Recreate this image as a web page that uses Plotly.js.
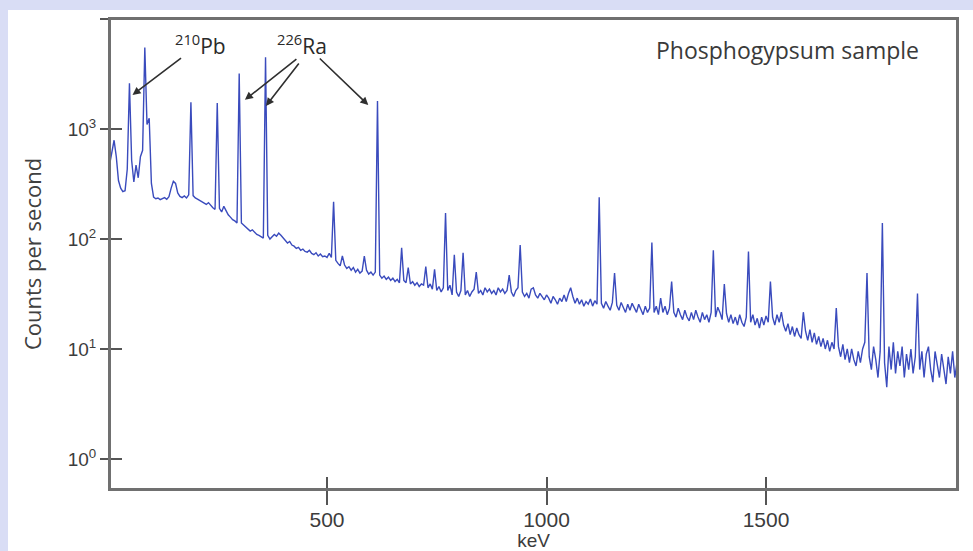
<!DOCTYPE html>
<html>
<head>
<meta charset="utf-8">
<script src="https://cdn.plot.ly/plotly-3.0.1.min.js"></script>
<style>
  html, body { margin: 0; padding: 0; background: #d9ddf5; width: 973px; height: 551px; overflow: hidden; }
  #chart { position: absolute; left: 8px; top: 10px; width: 965px; height: 541px; background: #ffffff; }
</style>
</head>
<body>
<div id="chart"></div>
<script>
// Gamma spectrum of a phosphogypsum sample: counts per second every 5 keV, starting at 5 keV
const energyStart = 5;   // keV of first channel
const energyStep = 5;    // keV per channel
const countsPerSecond = [
  // 5 - 50
  480, 640, 790, 560, 340, 290, 270, 275, 430, 2600,
  // 55 - 100
  520, 330, 470, 360, 560, 640, 5500, 1100, 1250, 320,
  // 105 - 150
  240, 232, 236, 228, 234, 238, 230, 242, 290, 335,
  // 155 - 200
  320, 262, 244, 238, 246, 236, 252, 1750, 248, 236,
  // 205 - 250
  230, 224, 218, 212, 206, 214, 200, 192, 186, 1720,
  // 255 - 300
  190, 176, 198, 182, 166, 158, 150, 146, 140, 3200,
  // 305 - 350
  140, 134, 128, 124, 118, 121, 114, 110, 108, 104,
  // 355 - 400
  102, 4500, 108, 100, 104, 110, 106, 113, 108, 102,
  // 405 - 450
  97, 92, 95, 88, 86, 82, 84, 79, 81, 77,
  // 455 - 500
  76, 79, 74, 72, 75, 70, 73, 69, 70, 68,
  // 505 - 550
  74, 68, 218, 64, 60, 57, 70, 58, 54, 56,
  // 555 - 600
  52, 55, 50, 53, 49, 51, 70, 52, 48, 50,
  // 605 - 650
  47, 50, 1800, 47, 44, 46, 43, 45, 42, 44,
  // 655 - 700
  41, 43, 40, 83, 42, 40, 55, 39, 41, 38,
  // 705 - 750
  40, 37, 39, 38, 56, 36, 39, 35, 53, 34,
  // 755 - 800
  37, 33, 36, 172, 34, 38, 31, 72, 33, 30,
  // 805 - 850
  34, 75, 31, 34, 30, 33, 35, 50, 32, 34,
  // 855 - 900
  31, 36, 33, 35, 32, 34, 31, 36, 33, 35,
  // 905 - 950
  32, 34, 47, 33, 30, 34, 36, 88, 33, 30,
  // 955 - 1000
  32, 29, 35, 36, 31, 29, 32, 30, 28, 31,
  // 1005 - 1050
  29, 26, 30, 28, 25.5, 29, 27, 31, 27, 32,
  // 1055 - 1100
  36, 30, 26, 29, 25.5, 28, 24.5, 27, 25.5, 28.5,
  // 1105 - 1150
  24.5, 27.5, 25.5, 240, 26, 23.5, 27, 24.5, 22.5, 26.5,
  // 1155 - 1200
  49, 25, 22.5, 26.5, 23.5, 21.5, 25.5, 22.5, 26, 23.5,
  // 1205 - 1250
  21.5, 25.5, 22.5, 20.5, 24.5, 21.5, 23.5, 93, 21.5, 24.5,
  // 1255 - 1300
  20.5, 29, 21.5, 24.5, 20.5, 23.5, 41, 21.5, 19.5, 23.5,
  // 1305 - 1350
  20.5, 18.5, 22.5, 19.5, 18, 21.5, 18.5, 22.5, 19.5, 17.5,
  // 1355 - 1400
  21.5, 18.5, 20.5, 17.5, 21.5, 79, 19.5, 24, 21.5, 18.5,
  // 1405 - 1450
  39, 21, 17.5, 20.5, 17, 19.5, 16.5, 20.5, 17.5, 16,
  // 1455 - 1500
  19.5, 77, 17.5, 20.5, 16.5, 19, 15.5, 19.5, 16.5, 20,
  // 1505 - 1550
  17.5, 41, 19.5, 16.5, 20.5, 17.5, 21.6, 16.5, 14.5, 17,
  // 1555 - 1600
  13.5, 16, 13, 15.5, 13.5, 12.5, 21.6, 14.5, 12, 15,
  // 1605 - 1650
  11.5, 14, 11, 13, 10.5, 12.5, 10, 12, 9.5, 11.5,
  // 1655 - 1700
  10, 23.6, 10.5, 8.5, 11, 8, 10, 7.5, 10, 8,
  // 1705 - 1750
  7, 9.5, 7.5, 10, 11.5, 49, 8.5, 6.5, 10.5, 8,
  // 1755 - 1800
  5.5, 9.5, 140, 7.5, 4.5, 10.5, 6.5, 11.5, 6, 9.5,
  // 1805 - 1850
  7, 10.5, 5.5, 9, 6.5, 10, 6, 8.5, 32, 6.5,
  // 1855 - 1900
  9.5, 5.5, 9, 10.5, 6.5, 5, 9.5, 7, 5.5, 9,
  // 1905 - 1935
  6.5, 4.8, 8.5, 6, 9.5, 5.5, 7.5
];

const xTickVals = [500, 1000, 1500];
const xTickText = ['500', '1000', '1500'];
const yTickVals = [1, 10, 100, 1000, 10000];
const yTickText = ['10<sup>0</sup>', '10<sup>1</sup>', '10<sup>2</sup>', '10<sup>3</sup>', '10<sup>4</sup>'];

// arrow targets [keV, counts per second]
const pbTarget = [57, 2040];
const raTargets = [[313, 1840], [361, 1620], [594, 1650]];

const xRange = [5.7, 1935];
const yRange = [-0.273, 4];

const tickFont = { family: 'Liberation Sans, Arial, sans-serif', color: '#3c3c3c' };
const labelFont = 'Open Sans, sans-serif';
const frameColor = '#707070';

const traces = [
  {
    type: 'scatter', mode: 'lines',
    x0: energyStart, dx: energyStep, y: countsPerSecond,
    line: { color: '#3a4bbd', width: 1.4 },
    showlegend: false, hoverinfo: 'x+y'
  },
  { type: 'scatter', mode: 'lines', x: [], y: [], xaxis: 'x2', yaxis: 'y2', showlegend: false, hoverinfo: 'skip' },
  { type: 'scatter', mode: 'lines', x: [], y: [], xaxis: 'x3', yaxis: 'y3', showlegend: false, hoverinfo: 'skip' }
];

const arrowStyle = { showarrow: true, arrowhead: 2, arrowsize: 1, arrowwidth: 1.6, arrowcolor: '#2f2f2f', text: '' };

const layout = {
  width: 965, height: 541,
  margin: { l: 102, r: 16, t: 9, b: 62 },
  paper_bgcolor: '#ffffff', plot_bgcolor: '#ffffff',
  showlegend: false,
  xaxis: {
    range: xRange, tickvals: xTickVals, ticktext: xTickText,
    ticks: 'outside', ticklen: 14, tickwidth: 2, tickcolor: '#555555',
    showline: true, linecolor: frameColor, linewidth: 2, mirror: true,
    showgrid: false, zeroline: false,
    tickfont: Object.assign({ size: 21 }, tickFont),
    ticklabelstandoff: -3,
    title: { text: 'keV', font: Object.assign({ size: 19 }, tickFont), standoff: 6 }
  },
  xaxis2: {
    overlaying: 'x', anchor: 'y2', side: 'bottom',
    range: xRange, tickvals: xTickVals, ticks: 'inside', ticklen: 12, tickwidth: 2, tickcolor: '#555555',
    showticklabels: false, showline: false, showgrid: false, zeroline: false
  },
  xaxis3: {
    overlaying: 'x', anchor: 'y3', side: 'top', range: xRange,
    ticks: '', showticklabels: false, showline: true, linecolor: frameColor, linewidth: 2,
    showgrid: false, zeroline: false
  },
  yaxis: {
    type: 'log', range: yRange, tickvals: yTickVals, ticktext: yTickText,
    ticks: 'outside', ticklen: 8, tickwidth: 2, tickcolor: '#555555',
    showline: true, linecolor: frameColor, linewidth: 2, mirror: true,
    showgrid: false, zeroline: false,
    tickfont: Object.assign({ size: 19 }, tickFont),
    title: { text: 'Counts per second', font: { family: labelFont, size: 22, color: '#404040' }, standoff: 20 }
  },
  yaxis2: {
    type: 'log', overlaying: 'y', anchor: 'x2', side: 'left',
    range: yRange, tickvals: yTickVals, ticks: 'inside', ticklen: 12, tickwidth: 2, tickcolor: '#555555',
    showticklabels: false, showline: false, showgrid: false, zeroline: false
  },
  yaxis3: {
    type: 'log', overlaying: 'y', anchor: 'x3', side: 'right', range: yRange,
    ticks: '', showticklabels: false, showline: true, linecolor: frameColor, linewidth: 2,
    showgrid: false, zeroline: false
  },
  shapes: [
    { type: 'rect', xref: 'paper', yref: 'paper', x0: 0, x1: 1, y0: 0, y1: 1,
      line: { color: frameColor, width: 2 }, layer: 'above' }
  ],
  annotations: [
    {
      xref: 'paper', yref: 'paper', x: 0.7993, y: 0.934, xanchor: 'center', yanchor: 'middle',
      text: 'Phosphogypsum sample', showarrow: false,
      font: { family: labelFont, size: 23, color: '#3a3a3a' }
    },
    {
      xref: 'paper', yref: 'paper', x: 0.1063, y: 0.9447, xanchor: 'center', yanchor: 'middle',
      text: '<sup>210</sup>Pb', showarrow: false,
      font: { family: labelFont, size: 21, color: '#2a2a2a' }
    },
    {
      xref: 'paper', yref: 'paper', x: 0.2267, y: 0.9447, xanchor: 'center', yanchor: 'middle',
      text: '<sup>226</sup>Ra', showarrow: false,
      font: { family: labelFont, size: 21, color: '#2a2a2a' }
    },
    Object.assign({ xref: 'x', yref: 'y', x: pbTarget[0], y: Math.log10(pbTarget[1]), ax: 50, ay: -38 }, arrowStyle),
    Object.assign({ xref: 'x', yref: 'y', x: raTargets[0][0], y: Math.log10(raTargets[0][1]), ax: 53, ay: -42 }, arrowStyle),
    Object.assign({ xref: 'x', yref: 'y', x: raTargets[1][0], y: Math.log10(raTargets[1][1]), ax: 34, ay: -44 }, arrowStyle),
    Object.assign({ xref: 'x', yref: 'y', x: raTargets[2][0], y: Math.log10(raTargets[2][1]), ax: -50, ay: -48 }, arrowStyle)
  ]
};

Plotly.newPlot('chart', traces, layout, { displayModeBar: false, staticPlot: true });
</script>
</body>
</html>
